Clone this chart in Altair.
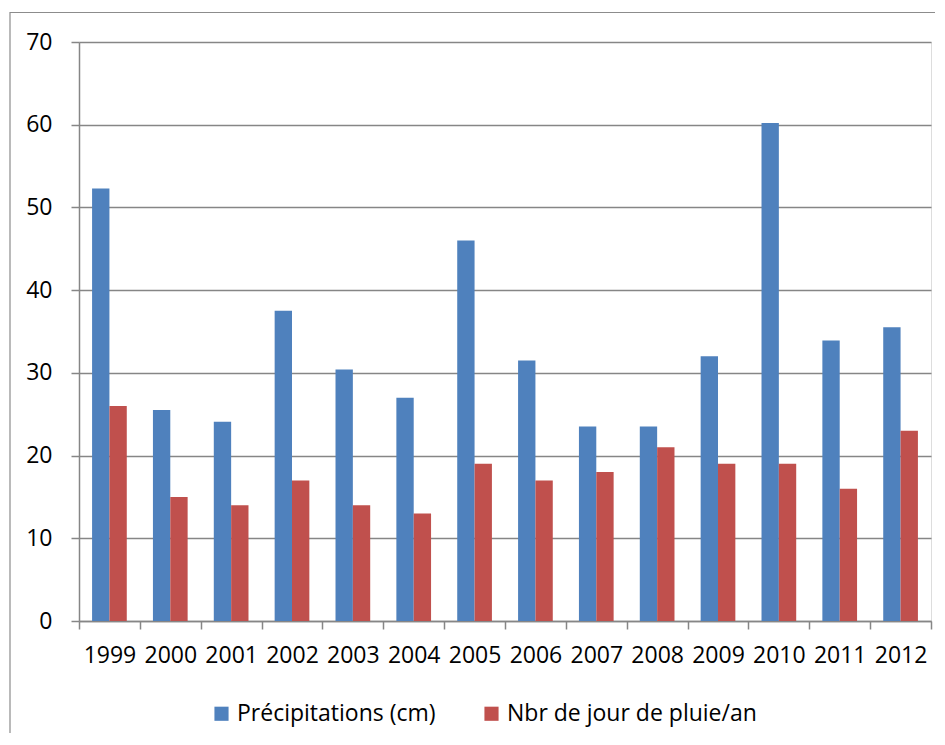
import altair as alt
import pandas as pd

years = ["1999", "2000", "2001", "2002", "2003", "2004", "2005",
         "2006", "2007", "2008", "2009", "2010", "2011", "2012"]
precipitations = [52.3, 25.5, 24.1, 37.5, 30.4, 27.0, 46.0,
                  31.5, 23.5, 23.5, 32.0, 60.2, 33.9, 35.5]
jours_pluie = [26, 15, 14, 17, 14, 13, 19, 17, 18, 21, 19, 19, 16, 23]
series_names = ["Précipitations (cm)", "Nbr de jour de pluie/an"]
series_colors = ["#4F81BD", "#C0504D"]
y_ticks = [0, 10, 20, 30, 40, 50, 60, 70]

rows = []
for i, y in enumerate(years):
    rows.append({"annee": y, "serie": series_names[0], "valeur": precipitations[i]})
    rows.append({"annee": y, "serie": series_names[1], "valeur": jours_pluie[i]})
df = pd.DataFrame(rows)

FONT = "Open Sans"
GRAY = "#868686"

bars = alt.Chart(df).mark_bar().encode(
    x=alt.X("annee:N", sort=years,
            scale=alt.Scale(paddingInner=0, paddingOuter=0),
            axis=alt.Axis(title=None, labelAngle=0, tickBand="extent",
                          domainColor=GRAY, domainWidth=1.5,
                          tickColor=GRAY, tickWidth=1.5, tickSize=8,
                          labelFontSize=23, labelColor="#000000",
                          labelPadding=15, grid=False, labelFont=FONT)),
    xOffset=alt.XOffset("serie:N", sort=series_names,
                        scale=alt.Scale(paddingInner=0, paddingOuter=0.754)),
    y=alt.Y("valeur:Q",
            scale=alt.Scale(domain=[0, 70], nice=False),
            axis=alt.Axis(title=None, values=y_ticks,
                          domainColor=GRAY, domainWidth=1.5,
                          tickColor=GRAY, tickWidth=1.5, tickSize=8,
                          gridColor=GRAY, gridWidth=1.5,
                          labelFontSize=23, labelColor="#000000",
                          labelPadding=19, labelFont=FONT)),
    color=alt.Color("serie:N", sort=series_names,
                    scale=alt.Scale(domain=series_names, range=series_colors),
                    legend=alt.Legend(title=None, orient="none",
                                      legendX=131, legendY=660,
                                      direction="horizontal",
                                      symbolType="square", symbolSize=200,
                                      symbolStrokeWidth=0,
                                      labelFontSize=23, labelFont=FONT,
                                      labelColor="#000000",
                                      labelOffset=4, columnPadding=44,
                                      padding=0, labelLimit=0)),
)

frame = alt.Chart(pd.DataFrame({"k": [0]})).mark_rect(
    fill="transparent", stroke="#8c8c8c", strokeWidth=1.2
).encode(
    x=alt.value(-69), x2=alt.value(900),
    y=alt.value(-29.5), y2=alt.value(740),
)

chart = alt.layer(frame, bars).properties(
    width=852, height=579,
    autosize=alt.AutoSizeParams(type="none"),
    padding={"left": 71, "top": 34, "right": 4, "bottom": 112},
).configure_view(stroke=None).configure(font=FONT, background="white")

chart.save("out.html", embed_options={"renderer": "svg", "actions": False})
